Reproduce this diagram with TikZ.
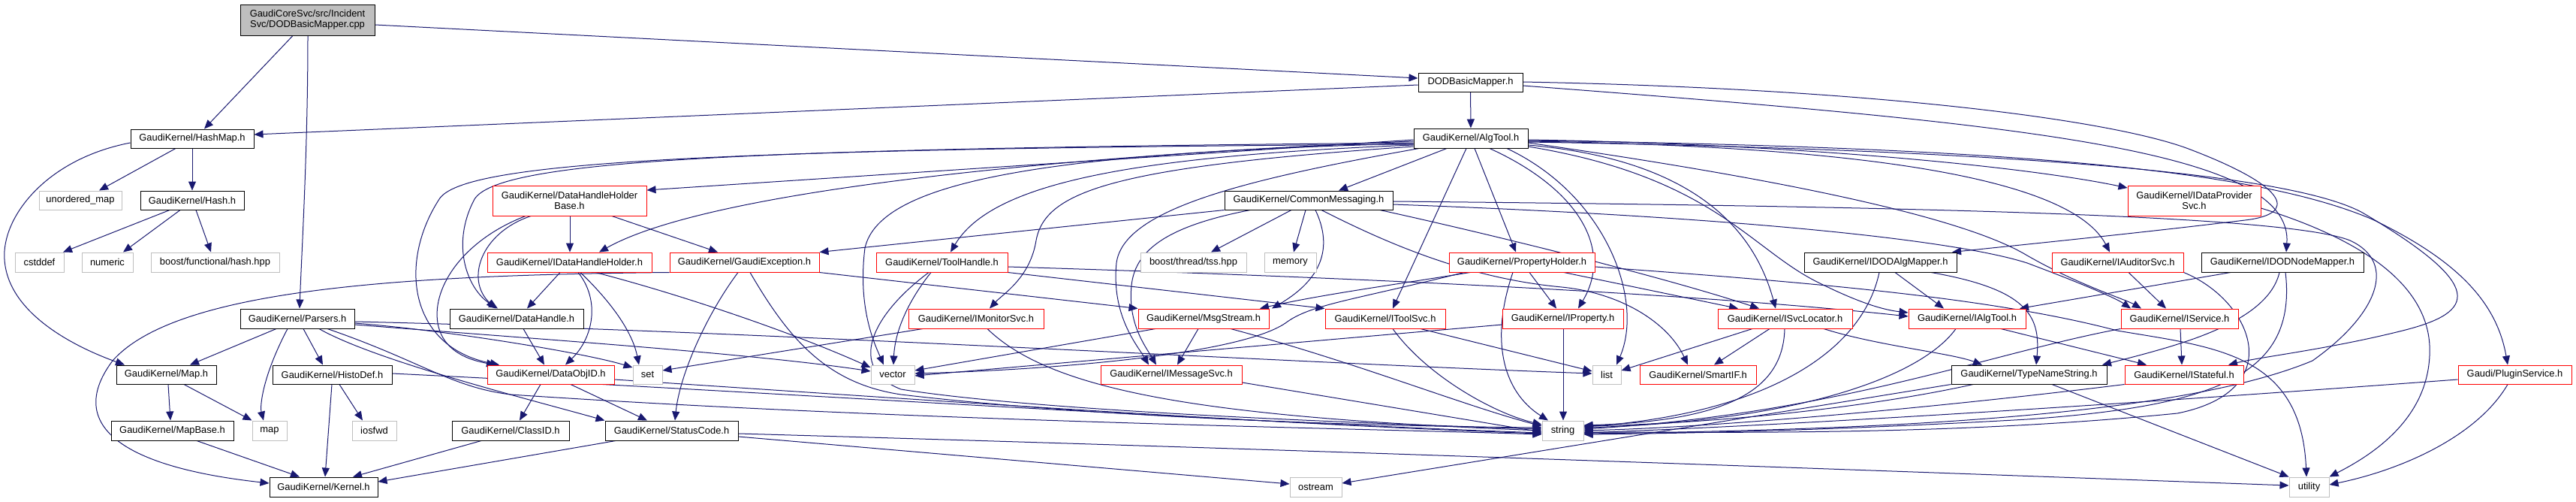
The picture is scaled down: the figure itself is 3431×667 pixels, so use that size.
\documentclass[tikz,border=0pt]{standalone}
\usepackage{fontspec}
\setmainfont{Liberation Sans}
\usetikzlibrary{arrows.meta}
\pgfdeclarelayer{bg}
\pgfsetlayers{bg,main}
\definecolor{edgec}{HTML}{191970}
\definecolor{sysgray}{HTML}{BFBFBF}
\definecolor{redb}{HTML}{FF0000}
\newcommand{\fsz}{\fontsize{12.9}{14.3}\selectfont}
\newcommand{\gnode}[7]{\node[#2, minimum width={(#5)-(#4)}, minimum height={(#7)-(#6)}] (#1) at ({((#4)+(#5))/2},{((#6)+(#7))/2}) {#3};}
\tikzset{
  box/.style={draw=black, line width=1pt, fill=white, inner sep=0pt, font=\fsz, align=center},
  sysbox/.style={box, draw=sysgray},
  redbox/.style={box, draw=redb},
  topbox/.style={box, fill=sysgray},
  dep/.style={draw=edgec, line width=1pt, -{Triangle[length=12pt,width=10pt]}}
}
\begin{document}
\begin{tikzpicture}[x=1pt,y=-1pt]
\useasboundingbox (0,0) rectangle (3431,667);
\begin{pgfonlayer}{bg}
\fill[white] (0,0) rectangle (3431,667);
\end{pgfonlayer}
\gnode{cpp}{topbox}{GaudiCoreSvc/src/Incident\\Svc/DODBasicMapper.cpp}{320}{499}{6}{47}
\gnode{dodh}{box}{DODBasicMapper.h}{1889}{2028}{97}{122}
\gnode{hashmap}{box}{GaudiKernel/HashMap.h}{174}{338}{172}{197}
\gnode{algtool}{box}{GaudiKernel/AlgTool.h}{1883}{2035}{171}{197}
\gnode{umap}{sysbox}{unordered\_map}{52}{162}{254}{279}
\gnode{hash}{box}{GaudiKernel/Hash.h}{187}{325}{254}{279}
\gnode{dhhb}{redbox}{GaudiKernel/DataHandleHolder\\Base.h}{656}{861}{247}{287}
\gnode{commsg}{box}{GaudiKernel/CommonMessaging.h}{1631}{1855}{254}{279}
\gnode{idps}{redbox}{GaudiKernel/IDataProvider\\Svc.h}{2834}{3011}{247}{287}
\gnode{cstddef}{sysbox}{cstddef}{20}{85}{336}{362}
\gnode{numeric}{sysbox}{numeric}{109}{177}{336}{362}
\gnode{bhash}{sysbox}{boost/functional/hash.hpp}{201}{372}{336}{362}
\gnode{idhh}{redbox}{GaudiKernel/IDataHandleHolder.h}{649}{868}{336}{362}
\gnode{gexc}{redbox}{GaudiKernel/GaudiException.h}{892}{1091}{336}{362}
\gnode{toolh}{redbox}{GaudiKernel/ToolHandle.h}{1167}{1342}{336}{362}
\gnode{tss}{sysbox}{boost/thread/tss.hpp}{1519}{1660}{336}{362}
\gnode{memory}{sysbox}{memory}{1684}{1753}{336}{362}
\gnode{prop}{redbox}{GaudiKernel/PropertyHolder.h}{1930}{2124}{336}{362}
\gnode{idodalg}{box}{GaudiKernel/IDODAlgMapper.h}{2403}{2606}{336}{362}
\gnode{iaud}{redbox}{GaudiKernel/IAuditorSvc.h}{2733}{2908}{336}{362}
\gnode{idodnode}{box}{GaudiKernel/IDODNodeMapper.h}{2932}{3148}{336}{362}
\gnode{parsers}{box}{GaudiKernel/Parsers.h}{320}{472}{411}{437}
\gnode{dh}{box}{GaudiKernel/DataHandle.h}{599}{777}{411}{437}
\gnode{imon}{redbox}{GaudiKernel/IMonitorSvc.h}{1210}{1390}{411}{437}
\gnode{msgs}{redbox}{GaudiKernel/MsgStream.h}{1516}{1690}{411}{437}
\gnode{itoolsvc}{redbox}{GaudiKernel/IToolSvc.h}{1765}{1925}{411}{437}
\gnode{iprop}{redbox}{GaudiKernel/IProperty.h}{2001}{2162}{411}{437}
\gnode{isvcloc}{redbox}{GaudiKernel/ISvcLocator.h}{2288}{2467}{411}{437}
\gnode{ialgtool}{redbox}{GaudiKernel/IAlgTool.h}{2542}{2698}{411}{437}
\gnode{iservice}{redbox}{GaudiKernel/IService.h}{2825}{2981}{411}{437}
\gnode{maph}{box}{GaudiKernel/Map.h}{155}{288}{486}{511}
\gnode{histodef}{box}{GaudiKernel/HistoDef.h}{363}{522}{486}{511}
\gnode{dataobjid}{redbox}{GaudiKernel/DataObjID.h}{649}{818}{486}{511}
\gnode{set}{sysbox}{set}{843}{882}{486}{511}
\gnode{vector}{sysbox}{vector}{1160}{1218}{486}{511}
\gnode{imsgsvc}{redbox}{GaudiKernel/IMessageSvc.h}{1466}{1654}{486}{511}
\gnode{list}{sysbox}{list}{2121}{2159}{486}{511}
\gnode{smartif}{redbox}{GaudiKernel/SmartIF.h}{2184}{2339}{486}{511}
\gnode{typename}{box}{GaudiKernel/TypeNameString.h}{2599}{2806}{486}{511}
\gnode{istateful}{redbox}{GaudiKernel/IStateful.h}{2830}{2988}{486}{511}
\gnode{plugin}{redbox}{Gaudi/PluginService.h}{3274}{3425}{486}{511}
\gnode{mapbase}{box}{GaudiKernel/MapBase.h}{148}{311}{560}{586}
\gnode{map}{sysbox}{map}{336}{382}{560}{586}
\gnode{iosfwd}{sysbox}{iosfwd}{469}{528}{560}{586}
\gnode{classid}{box}{GaudiKernel/ClassID.h}{602}{758}{560}{586}
\gnode{statuscode}{box}{GaudiKernel/StatusCode.h}{806}{983}{560}{586}
\gnode{string}{sysbox}{string}{2054}{2109}{560}{586}
\gnode{kernel}{box}{GaudiKernel/Kernel.h}{359}{503}{635}{661}
\gnode{ostream}{sysbox}{ostream}{1718}{1787}{635}{661}
\gnode{utility}{sysbox}{utility}{3049}{3102}{635}{661}
\begin{pgfonlayer}{bg}
% top
\draw[dep] (cpp.south -| 390,0) -- (hashmap.north -| 272,0);
\draw[dep] (cpp.south -| 410,0) .. controls (410,200) and (402,330) .. (parsers.north -| 399,0);
\draw[dep] (cpp.east |- 0,33) -- (dodh.west |- 0,104);
\draw[dep] (dodh.west |- 0,113) -- (hashmap.east |- 0,179);
\draw[dep] (dodh) -- (algtool);
\draw[dep] (dodh.east |- 0,109) .. controls (2500,118) and (2820,160) .. (2920,200) .. controls (3050,250) and (3060,285) .. (2990,293) .. controls (2850,310) and (2700,325) .. (idodalg.north -| 2600,0);
\draw[dep] (dodh.east |- 0,114) .. controls (2700,165) and (3055,200) .. (idodnode.north -| 3045,0);
% hashmap
\draw[dep] (hashmap.south -| 234,0) -- (umap.north -| 132,0);
\draw[dep] (hashmap.south -| 256,0) -- (hash.north -| 256,0);
\draw[dep] (hashmap.west |- 0,190) .. controls (60,212) and (2,290) .. (6,345) .. controls (10,415) and (95,460) .. (maph.north -| 166,0);
\draw[dep] (hash.south -| 226,0) -- (cstddef.north -| 84,0);
\draw[dep] (hash.south -| 240,0) -- (numeric.north -| 164,0);
\draw[dep] (hash.south -| 261,0) -- (bhash.north -| 281,0);
% algtool
\draw[dep] (algtool.south -| 1927,0) -- (commsg.north -| 1783,0);
\draw[dep] (algtool.west |- 0,186) -- (dhhb.east |- 0,253);
\draw[dep] (algtool.west |- 0,188) .. controls (1450,205) and (950,250) .. (idhh.north -| 798,0);
\draw[dep] (algtool.west |- 0,190) .. controls (1000,198) and (665,212) .. (632,265) .. controls (600,325) and (622,385) .. (dh.north -| 663,0);
\draw[dep] (algtool.west |- 0,192) .. controls (900,198) and (615,218) .. (585,265) .. controls (530,350) and (545,462) .. (dataobjid.north -| 665,0);
\draw[dep] (algtool.west |- 0,193) .. controls (1500,208) and (1320,245) .. (toolh.north -| 1266,0);
\draw[dep] (algtool.west |- 0,195) .. controls (1480,222) and (1392,255) .. (1380,320) .. controls (1372,370) and (1335,392) .. (imon.north -| 1318,0);
\draw[dep] (algtool.west |- 0,191) .. controls (1400,203) and (1172,240) .. (1152,330) .. controls (1142,410) and (1165,458) .. (vector.north -| 1177,0);
\draw[dep] (algtool.south -| 1890,0) .. controls (1650,240) and (1496,280) .. (1487,350) .. controls (1480,420) and (1515,460) .. (imsgsvc.north -| 1530,0);
\draw[dep] (algtool.south -| 1953,0) -- (itoolsvc.north -| 1855,0);
\draw[dep] (algtool.south -| 1964,0) -- (prop.north -| 2019,0);
\draw[dep] (algtool.south -| 1984,0) .. controls (2100,250) and (2150,330) .. (iprop.north -| 2102,0);
\draw[dep] (algtool.south -| 2007,0) .. controls (2140,260) and (2190,400) .. (list.north -| 2153,0);
\draw[dep] (algtool.east |- 0,193) .. controls (2250,212) and (2335,300) .. (isvcloc.north -| 2365,0);
\draw[dep] (algtool.east |- 0,195) .. controls (2280,235) and (2330,330) .. (2420,375) .. controls (2470,400) and (2505,412) .. (ialgtool.west |- 0,416);
\draw[dep] (algtool.east |- 0,188) .. controls (2500,195) and (2760,240) .. (iaud.north -| 2810,0);
\draw[dep] (algtool.east |- 0,186) .. controls (2400,192) and (2700,222) .. (idps.west |- 0,250);
\draw[dep] (algtool.east |- 0,190) .. controls (2300,228) and (2600,280) .. (2700,340) .. controls (2770,380) and (2830,398) .. (iservice.north -| 2852,0);
\draw[dep] (algtool.east |- 0,189) .. controls (2600,198) and (3050,225) .. (3150,285) .. controls (3310,380) and (3300,415) .. (3200,440) .. controls (3100,465) and (3010,475) .. (istateful.north -| 2968,0);
\draw[dep] (algtool.east |- 0,187) .. controls (2700,196) and (3010,228) .. (3160,292) .. controls (3270,345) and (3325,400) .. (plugin.north -| 3340,0);
% commsg
\draw[dep] (commsg.south west) -- (gexc.north east);
\draw[dep] (commsg.south -| 1665,0) .. controls (1560,300) and (1512,330) .. (1507,380) .. controls (1502,430) and (1525,460) .. (imsgsvc.north -| 1540,0);
\draw[dep] (commsg.south -| 1720,0) -- (tss.north -| 1613,0);
\draw[dep] (commsg.south -| 1739,0) -- (memory.north -| 1723,0);
\draw[dep] (commsg.south -| 1752,0) .. controls (1776,330) and (1760,372) .. (msgs.north -| 1694,0);
\draw[dep] (commsg.south -| 1760,0) .. controls (1840,320) and (1950,370) .. (2080,382) .. controls (2160,390) and (2222,430) .. (smartif.north -| 2248,0);
\draw[dep] (commsg.south -| 1838,0) .. controls (2000,315) and (2220,370) .. (isvcloc.north -| 2343,0);
\draw[dep] (commsg.east |- 0,272) .. controls (2300,288) and (2600,318) .. (2700,350) .. controls (2780,380) and (2820,398) .. (iservice.north -| 2838,0);
\draw[dep] (commsg.east |- 0,268) .. controls (2600,275) and (3050,288) .. (3130,320) .. controls (3195,350) and (3165,420) .. (3080,480) .. controls (2900,555) and (2500,572) .. (string.east |- 0,577);
% dhhb
\draw[dep] (dhhb.south -| 759,0) -- (idhh.north -| 759,0);
\draw[dep] (dhhb.south -| 707,0) .. controls (640,310) and (620,372) .. (dh.north -| 660,0);
\draw[dep] (dhhb.south -| 700,0) .. controls (620,318) and (575,380) .. (583,430) .. controls (590,470) and (630,480) .. (dataobjid.north -| 660,0);
\draw[dep] (dhhb.south -| 815,0) -- (gexc.north -| 956,0);
% idhh
\draw[dep] (idhh.south -| 746,0) -- (dh.north -| 702,0);
\draw[dep] (idhh.south -| 770,0) .. controls (800,400) and (790,450) .. (dataobjid.north -| 753,0);
\draw[dep] (idhh.south -| 773,0) .. controls (812,400) and (842,440) .. (set.north -| 851,0);
\draw[dep] (idhh.south -| 793,0) .. controls (900,390) and (1050,440) .. (vector.west |- 0,489);
% gexc
\draw[dep] (gexc.south west) .. controls (500,366) and (230,390) .. (150,480) .. controls (90,560) and (150,620) .. (kernel.west |- 0,643);
\draw[dep] (gexc.south -| 983,0) .. controls (940,420) and (905,500) .. (statuscode.north -| 899,0);
\draw[dep] (gexc.south -| 999,0) .. controls (1050,450) and (1100,510) .. (1200,525) .. controls (1500,560) and (1900,568) .. (string.west |- 0,569);
\draw[dep] (gexc.south east) -- (msgs.north west);
% toolh
\draw[dep] (toolh.south -| 1240,0) .. controls (1210,400) and (1192,440) .. (vector.north -| 1190,0);
\draw[dep] (toolh.south -| 1237,0) .. controls (1160,420) and (1128,490) .. (1200,518) .. controls (1400,550) and (1900,566) .. (string.west |- 0,571);
\draw[dep] (toolh.south east) -- (itoolsvc.north west);
\draw[dep] (toolh.east |- 0,355) .. controls (1900,372) and (2300,395) .. (ialgtool.west |- 0,421);
% imon
\draw[dep] (imon.south -| 1229,0) -- (set.east |- 0,493);
\draw[dep] (imon.south -| 1315,0) .. controls (1400,520) and (1600,555) .. (string.west |- 0,573);
% msgs
\draw[dep] (msgs.south -| 1539,0) -- (vector.east |- 0,493);
\draw[dep] (msgs.south -| 1596,0) -- (imsgsvc.north -| 1568,0);
\draw[dep] (msgs.south -| 1639,0) .. controls (1800,480) and (1950,540) .. (string.west |- 0,567);
\draw[dep] (imsgsvc.east |- 0,509) -- (string.west |- 0,575);
% prop
\draw[dep] (prop.south -| 1958,0) .. controls (1850,380) and (1760,392) .. (msgs.north -| 1678,0);
\draw[dep] (prop.south -| 1950,0) .. controls (1800,400) and (1745,405) .. (1712,430) .. controls (1650,472) and (1400,492) .. (vector.east |- 0,497);
\draw[dep] (prop.south -| 2037,0) -- (iprop.north -| 2073,0);
\draw[dep] (prop.south -| 2083,0) -- (isvcloc.north -| 2315,0);
\draw[dep] (prop.south -| 2015,0) .. controls (1985,450) and (2000,520) .. (string.north -| 2062,0);
\draw[dep] (prop.east |- 0,355) .. controls (2400,375) and (2650,395) .. (2820,440) .. controls (2950,462) and (3065,470) .. (utility.north -| 3072,0);
% itoolsvc, iprop
\draw[dep] (itoolsvc.south -| 1892,0) -- (list.west |- 0,494);
\draw[dep] (itoolsvc.south -| 1855,0) .. controls (1900,500) and (1990,550) .. (string.west |- 0,565);
\draw[dep] (iprop.south -| 2082,0) -- (string.north -| 2082,0);
\draw[dep] (iprop.west |- 0,432) -- (vector.east |- 0,500);
% isvcloc
\draw[dep] (isvcloc.south -| 2334,0) -- (list.east |- 0,493);
\draw[dep] (isvcloc.south -| 2357,0) -- (smartif.north -| 2283,0);
\draw[dep] (isvcloc.south -| 2377,0) .. controls (2375,520) and (2300,560) .. (string.east |- 0,566);
\draw[dep] (isvcloc.south -| 2429,0) .. controls (2500,460) and (2600,470) .. (typename.north -| 2640,0);
% ialgtool
\draw[dep] (ialgtool.south -| 2665,0) -- (istateful.north -| 2859,0);
\draw[dep] (ialgtool.south -| 2605,0) .. controls (2560,500) and (2400,560) .. (string.east |- 0,569);
% idodalg
\draw[dep] (idodalg.south -| 2524,0) -- (ialgtool.north -| 2589,0);
\draw[dep] (idodalg.south -| 2572,0) .. controls (2700,385) and (2718,420) .. (typename.north -| 2712,0);
\draw[dep] (idodalg.south -| 2503,0) .. controls (2480,470) and (2350,550) .. (string.east |- 0,568);
% iaud
\draw[dep] (iaud.south -| 2835,0) -- (iservice.north -| 2885,0);
\draw[dep] (iaud.south east) .. controls (3000,400) and (3050,520) .. (2900,550) .. controls (2600,580) and (2300,575) .. (string.east |- 0,575);
% idodnode
\draw[dep] (idodnode.south -| 2971,0) -- (ialgtool.north -| 2690,0);
\draw[dep] (idodnode.south -| 3036,0) .. controls (3020,430) and (2900,460) .. (typename.north -| 2800,0);
\draw[dep] (idodnode.south -| 3044,0) .. controls (3060,500) and (2950,540) .. (2700,558) .. controls (2400,575) and (2200,577) .. (string.east |- 0,578);
% iservice, istateful
\draw[dep] (iservice.south -| 2904,0) -- (istateful.north -| 2906,0);
\draw[dep] (iservice.south west) .. controls (2650,470) and (2450,550) .. (string.east |- 0,571);
\draw[dep] (istateful.south west) .. controls (2600,540) and (2300,568) .. (string.east |- 0,573);
% typename
\draw[dep] (typename.south -| 2628,0) .. controls (2500,540) and (2300,563) .. (string.east |- 0,567);
\draw[dep] (typename.south -| 2733,0) -- (utility.north west);
\draw[dep] (typename.south west) -- (ostream.east |- 0,643);
% plugin
\draw[dep] (plugin.west |- 0,505) .. controls (2800,540) and (2400,565) .. (string.east |- 0,576);
\draw[dep] (plugin.south -| 3340,0) .. controls (3300,580) and (3200,625) .. (utility.east |- 0,645);
% idps
\draw[dep] (idps.east |- 0,277) .. controls (3150,320) and (3232,380) .. (3236,460) .. controls (3240,560) and (3150,610) .. (utility.north east);
% parsers
\draw[dep] (parsers.south -| 368,0) -- (maph.north -| 253,0);
\draw[dep] (parsers.south -| 383,0) .. controls (350,500) and (346,540) .. (map.north -| 351,0);
\draw[dep] (parsers.south -| 404,0) -- (histodef.north -| 430,0);
\draw[dep] (parsers.south -| 425,0) .. controls (500,480) and (700,530) .. (statuscode.north west);
\draw[dep] (parsers.south -| 436,0) .. controls (560,480) and (600,515) .. (680,525) .. controls (1200,560) and (1800,570) .. (string.west |- 0,578);
\draw[dep] (parsers.east |- 0,430) .. controls (600,440) and (780,470) .. (set.west |- 0,489);
\draw[dep] (parsers.east |- 0,432) .. controls (700,450) and (1000,470) .. (vector.west |- 0,494);
\draw[dep] (parsers.east |- 0,428) .. controls (1000,440) and (1700,482) .. (list.west |- 0,497);
% histodef
\draw[dep] (histodef.south -| 442,0) -- (kernel.north -| 433,0);
\draw[dep] (histodef.south -| 452,0) -- (iosfwd.north -| 483,0);
\draw[dep] (histodef.east |- 0,497) .. controls (1000,520) and (1600,560) .. (string.west |- 0,576);
% map
\draw[dep] (maph.south -| 224,0) -- (mapbase.north -| 227,0);
\draw[dep] (maph.south -| 245,0) -- (map.north west);
\draw[dep] (mapbase.south -| 262,0) -- (kernel.north -| 399,0);
% dh, dataobjid
\draw[dep] (dh.south -| 697,0) -- (dataobjid.north -| 725,0);
\draw[dep] (dataobjid.south -| 720,0) -- (classid.north -| 692,0);
\draw[dep] (dataobjid.south -| 760,0) -- (statuscode.north -| 862,0);
\draw[dep] (dataobjid.east |- 0,505) .. controls (1200,530) and (1700,565) .. (string.west |- 0,577);
\draw[dep] (classid.south -| 641,0) -- (kernel.north -| 470,0);
% statuscode
\draw[dep] (statuscode.south -| 820,0) -- (kernel.east |- 0,641);
\draw[dep] (statuscode.east |- 0,581) -- (ostream.west |- 0,644);
\draw[dep] (statuscode.east |- 0,577) .. controls (1800,600) and (2600,630) .. (utility.west |- 0,646);
\end{pgfonlayer}
\end{tikzpicture}
\end{document}
